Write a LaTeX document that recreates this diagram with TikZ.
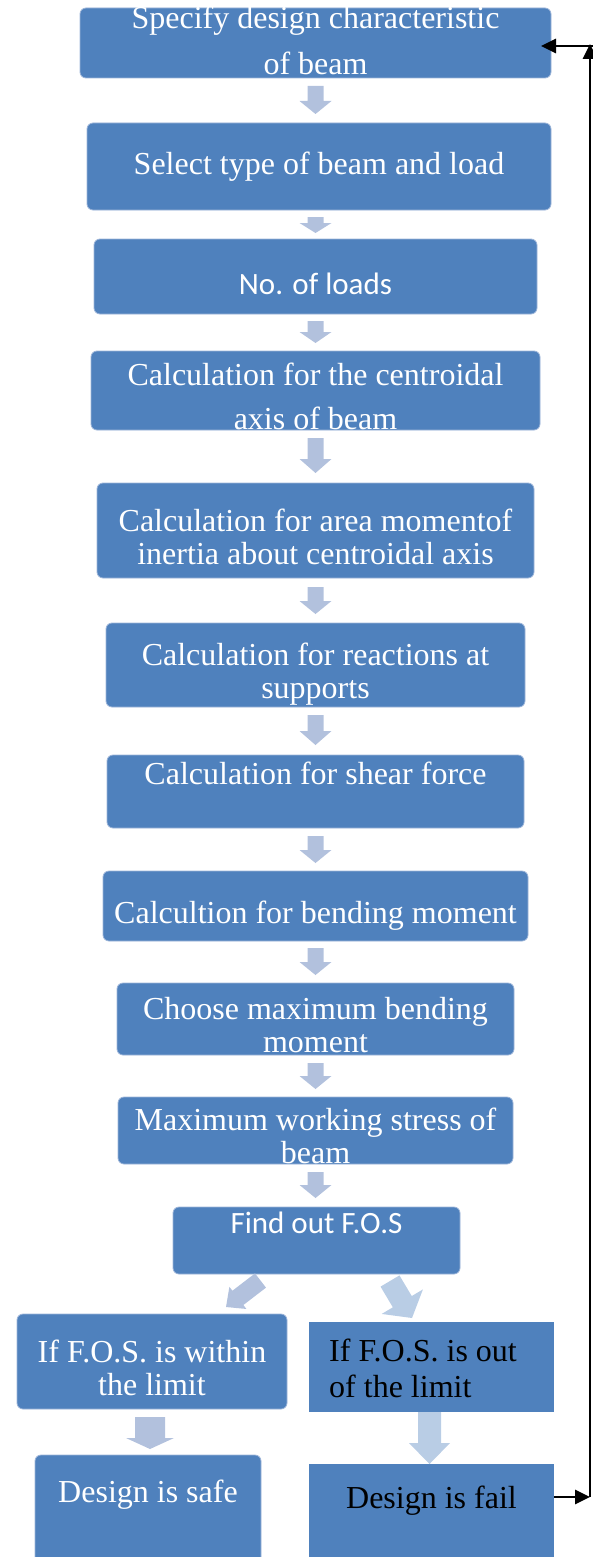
\documentclass[tikz,border=0pt]{standalone}
\usepackage{fontspec}
\setmainfont{Liberation Serif}
\newfontfamily\calibrifont{Carlito}
\usetikzlibrary{calc,arrows.meta}

\definecolor{boxblue}{HTML}{4F81BD}
\definecolor{boxedge}{HTML}{9DB5D9}
\definecolor{arrowblue}{HTML}{B2C1DD}
\definecolor{lightblue}{HTML}{B9CDE5}

\tikzset{
  flowbox/.style={fill=boxblue, draw=boxedge, line width=0.8pt, rounded corners=6pt, inner sep=0pt, outer sep=0pt},
  plainbox/.style={fill=boxblue, inner sep=0pt, outer sep=0pt},
  boxtext/.style={text=white, inner sep=0pt, anchor=base, align=center, font=\fontsize{32}{33}\selectfont},
  calitext/.style={boxtext, font=\calibrifont\fontsize{31}{33}\selectfont},
  loopline/.style={line width=2.8pt, -{Triangle[length=15pt,width=14pt]}}
}

% block arrow: [colour]{from}{to}{shaft half width}{head half width}{head length}
\newcommand{\flowarrow}[6][arrowblue]{%
  \coordinate (fa) at #2;
  \coordinate (fb) at #3;
  \coordinate (fn) at ($(fb)!#6!(fa)$);
  \fill[#1] ($(fa)!#4!90:(fb)$) -- ($(fn)!#4!90:(fb)$) -- ($(fn)!#5!90:(fb)$) -- (fb)
    -- ($(fn)!#5!-90:(fb)$) -- ($(fn)!#4!-90:(fb)$) -- ($(fa)!#4!-90:(fb)$) -- cycle;
}

\begin{document}
\begin{tikzpicture}[x=1pt,y=-1pt]
\useasboundingbox (0,0) rectangle (593,1557);
\clip (0,0) rectangle (593,1557);

\node[flowbox, minimum width=471pt, minimum height=70pt] (spec) at (315.5,43) {};
\node[flowbox, minimum width=464pt, minimum height=87pt] (select) at (319,166.5) {};
\node[flowbox, minimum width=443pt, minimum height=75pt] (loads) at (315.5,276.5) {};
\node[flowbox, minimum width=449pt, minimum height=79pt] (centroid) at (315.5,390.5) {};
\node[flowbox, minimum width=437pt, minimum height=95pt] (area) at (315.5,530.5) {};
\node[flowbox, minimum width=419pt, minimum height=84pt] (react) at (315.5,665) {};
\node[flowbox, minimum width=417pt, minimum height=73pt] (shear) at (315.5,791.5) {};
\node[flowbox, minimum width=425pt, minimum height=70pt] (bending) at (315.5,906) {};
\node[flowbox, minimum width=397pt, minimum height=72pt] (choose) at (315.5,1019) {};
\node[flowbox, minimum width=395pt, minimum height=67pt] (stress) at (315.5,1130.5) {};
\node[flowbox, minimum width=287pt, minimum height=67pt] (find) at (316.5,1240.5) {};
\node[flowbox, minimum width=270pt, minimum height=95pt] (within) at (152,1361.5) {};
\node[plainbox, minimum width=245pt, minimum height=90pt] (out) at (431.5,1367) {};
\node[flowbox, minimum width=226pt, minimum height=115pt] (safe) at (148,1512.5) {};
\node[plainbox, minimum width=245pt, minimum height=106pt] (fail) at (431.5,1517) {};

\node[boxtext] (spec-t) at (315.5,75) {Specify design characteristic\\[13pt]of beam};
\node[boxtext] (select-t) at (319,175) {Select type of beam and load};
\node[calitext] (loads-t) at (315.5,294) {No. of loads};
\node[boxtext] (centroid-t) at (315.5,429) {Calculation for the centroidal\\[11pt]axis of beam};
\node[boxtext] (area-t) at (315.5,564) {Calculation for area momentof\\inertia about centroidal axis};
\node[boxtext] (react-t) at (315.5,698) {Calculation for reactions at\\supports};
\node[boxtext] (shear-t) at (315.5,784) {Calculation for shear force};
\node[boxtext] (bending-t) at (315.5,923) {Calcultion for bending moment};
\node[boxtext] (choose-t) at (315.5,1052) {Choose maximum bending\\moment};
\node[boxtext] (stress-t) at (315.5,1163) {Maximum working stress of\\beam};
\node[calitext] (find-t) at (316.5,1233) {Find out F.O.S};
\node[boxtext] (within-t) at (152,1395) {If F.O.S. is within\\the limit};
\node[boxtext, text=black, anchor=base west, align=left] (out-t) at (329,1397) {If F.O.S. is out\\[3pt]of the limit};
\node[boxtext] (safe-t) at (148,1502) {Design is safe};
\node[boxtext, text=black] (fail-t) at (431.5,1508) {Design is fail};

\flowarrow{($(spec.south)+(0,8)$)}{($(spec.south |- select.north)+(0,-9)$)}{8pt}{16pt}{13pt}
\flowarrow{($(select.south -| loads.north)+(0,7)$)}{($(loads.north)+(0,-6)$)}{8pt}{16pt}{10pt}
\flowarrow{($(loads.south)+(0,7)$)}{($(centroid.north)+(0,-8)$)}{8pt}{16pt}{11pt}
\flowarrow{($(centroid.south)+(0,8)$)}{($(area.north)+(0,-10)$)}{8pt}{16pt}{14pt}
\flowarrow{($(area.south)+(0,9)$)}{($(react.north)+(0,-9)$)}{8pt}{16pt}{13pt}
\flowarrow{($(react.south)+(0,8)$)}{($(shear.north)+(0,-10)$)}{8pt}{16pt}{14pt}
\flowarrow{($(shear.south)+(0,8)$)}{($(bending.north)+(0,-8)$)}{8pt}{16pt}{13pt}
\flowarrow{($(bending.south)+(0,7)$)}{($(choose.north)+(0,-8)$)}{8pt}{16pt}{13pt}
\flowarrow{($(choose.south)+(0,8)$)}{($(stress.north)+(0,-8)$)}{8pt}{16pt}{13pt}
\flowarrow{($(stress.south)+(0,8)$)}{($(stress.south |- find.north)+(0,-9)$)}{8pt}{16pt}{13pt}

\flowarrow{($(find.south west)+(87.5,6.5)$)}{($(within.north east)+(-61,-7)$)}{9pt}{14pt}{15pt}
\flowarrow[lightblue]{($(find.south)+(73.5,7)$)}{($(out.north)+(-19.5,-4)$)}{11pt}{24pt}{19pt}
\flowarrow{($(within.south)+(-2,8)$)}{($(within.south |- safe.north)+(-2,-6)$)}{15pt}{24pt}{11pt}
\flowarrow[lightblue]{($(out.south)+(-2,0)$)}{($(out.south |- fail.north)+(-2,0)$)}{11.5pt}{20.5pt}{21pt}

\coordinate (loopb) at (590,1497);
\coordinate (loopt) at (590,44);
\draw[loopline] (fail.east |- loopb) -- (loopb);
\draw[loopline] (loopb) -- (loopt);
\draw[loopline] ($(loopt)+(3,2)$) -- ($(spec.east |- loopt)+(-10,2)$);
\end{tikzpicture}
\end{document}
